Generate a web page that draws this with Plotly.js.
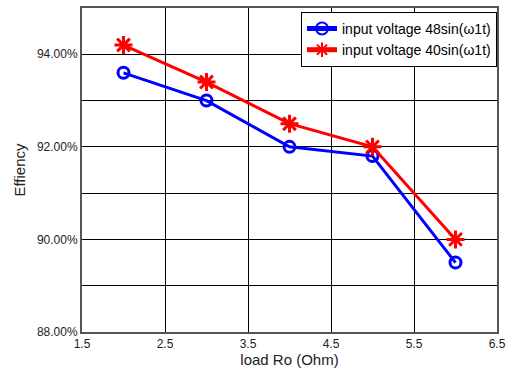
<!DOCTYPE html>
<html>
<head>
<meta charset="utf-8">
<script src="https://cdn.plot.ly/plotly-3.0.1.min.js"></script>
<style>html,body{margin:0;padding:0;background:#fff;}#chart{width:508px;height:372px;}</style>
</head>
<body>
<div id="chart"></div>
<script>
const loadRo = [2, 3, 4, 5, 6];
const eff48 = [0.936, 0.930, 0.920, 0.918, 0.895];
const eff40 = [0.942, 0.934, 0.925, 0.920, 0.900];
const xTickVals = [1.5, 2.5, 3.5, 4.5, 5.5, 6.5];
const yTickVals = [0.88, 0.89, 0.90, 0.91, 0.92, 0.93, 0.94, 0.95];
const yTickText = ['88.00%', '', '90.00%', '', '92.00%', '', '94.00%', ''];

const traces = [
  {
    x: loadRo, y: eff48, type: 'scatter', mode: 'lines+markers',
    name: 'input voltage 48sin(\u03c91t)',
    line: {color: '#0000ff', width: 3},
    marker: {symbol: 'circle-open', size: 11, color: '#0000ff', line: {width: 3, color: '#0000ff'}}
  },
  {
    x: loadRo, y: eff40, type: 'scatter', mode: 'lines+markers',
    name: 'input voltage 40sin(\u03c91t)',
    line: {color: '#ff0000', width: 3},
    marker: {symbol: 'asterisk-open', size: 15, color: '#ff0000', line: {width: 3, color: '#ff0000'}}
  }
];

const layout = {
  width: 508, height: 372,
  margin: {l: 82, r: 11, t: 8, b: 40},
  paper_bgcolor: '#ffffff', plot_bgcolor: '#ffffff',
  font: {family: 'Liberation Sans, Arial, sans-serif', size: 12, color: '#222'},
  showlegend: true,
  legend: {
    x: 1, y: 0.988, xanchor: 'right', yanchor: 'top',
    bgcolor: '#ffffff', bordercolor: '#000000', borderwidth: 1,
    font: {size: 14, color: '#000'},
    tracegroupgap: 0, itemsizing: 'constant'
  },
  xaxis: {
    range: [1.5, 6.5], tickmode: 'array', tickvals: xTickVals,
    ticktext: xTickVals.map(v => v.toFixed(1)),
    showgrid: true, gridcolor: '#000000', gridwidth: 1,
    zeroline: false, showline: true, linecolor: '#555', linewidth: 2, mirror: true,
    ticks: '', tickfont: {size: 12, color: '#222'},
    title: {text: 'load Ro (Ohm)', font: {size: 15, color: '#222'}, standoff: 4}
  },
  yaxis: {
    range: [0.88, 0.95], tickmode: 'array', tickvals: yTickVals, ticktext: yTickText,
    showgrid: true, gridcolor: '#000000', gridwidth: 1,
    zeroline: false, showline: true, linecolor: '#555', linewidth: 2, mirror: true,
    ticks: '', tickfont: {size: 12, color: '#222'},
    title: {text: 'Effiency', font: {size: 15, color: '#222'}, standoff: 8}
  }
};

Plotly.newPlot('chart', traces, layout, {displayModeBar: false, staticPlot: true});
</script>
</body>
</html>
